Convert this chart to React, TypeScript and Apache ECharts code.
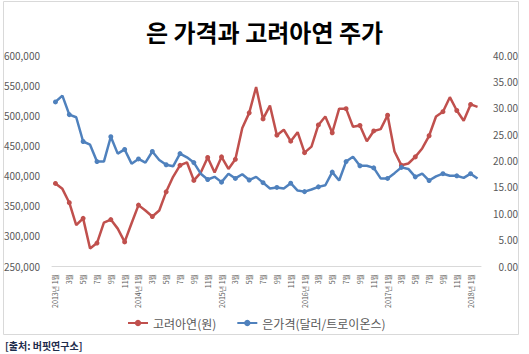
import React, { useEffect, useRef } from "react";
import * as echarts from "echarts";

const months: string[] = [
  "2013년 1월", "2월", "3월", "4월", "5월", "6월", "7월", "8월", "9월", "10월", "11월", "12월",
  "2014년 1월", "2월", "3월", "4월", "5월", "6월", "7월", "8월", "9월", "10월", "11월", "12월",
  "2015년 1월", "2월", "3월", "4월", "5월", "6월", "7월", "8월", "9월", "10월", "11월", "12월",
  "2016년 1월", "2월", "3월", "4월", "5월", "6월", "7월", "8월", "9월", "10월", "11월", "12월",
  "2017년 1월", "2월", "3월", "4월", "5월", "6월", "7월", "8월", "9월", "10월", "11월", "12월",
  "2018년 1월", "2월",
];

const zincPrice: number[] = [
  387000, 378000, 355000, 318000, 329000, 279000, 288000, 322000, 327000, 312000, 290000, 321000,
  351000, 342000, 332000, 342000, 373000, 398000, 417000, 422000, 392000, 405000, 430000, 405000,
  431000, 411000, 427000, 479000, 504000, 547000, 494000, 516000, 467000, 476000, 457000, 472000,
  438000, 448000, 484000, 498000, 471000, 511000, 511000, 481000, 483000, 457000, 474000, 477000,
  500000, 440000, 417000, 420000, 431000, 445000, 466000, 498000, 506000, 530000, 508000, 491000,
  518000, 514000,
];

const silverPrice: number[] = [
  31.1, 32.3, 28.7, 28.2, 23.6, 23.0, 19.8, 19.8, 24.5, 21.3, 22.1, 19.4,
  20.3, 19.6, 21.7, 20.1, 19.2, 18.9, 21.3, 20.6, 19.6, 17.5, 16.4, 16.9,
  15.9, 17.5, 16.6, 17.4, 16.3, 16.9, 15.8, 14.7, 14.9, 14.7, 15.7, 14.3,
  14.1, 14.5, 15.0, 15.3, 17.8, 16.2, 19.8, 20.7, 19.0, 19.0, 18.6, 16.6,
  16.6, 17.6, 18.7, 18.4, 16.9, 17.5, 16.2, 17.0, 17.5, 17.1, 17.1, 16.7,
  17.5, 16.6,
];

const seriesNames: string[] = ["고려아연(원)", "은가격(달러/트로이온스)"];
const titleText = "은 가격과 고려아연 주가";
const sourceText = "[출처: 버핏연구소]";

const FONT = "'Noto Sans CJK KR', 'Noto Sans', sans-serif";
const RED = "#C0504D";
const BLUE = "#4F81BD";
const LABEL = "#595959";

export default function App() {
  const ref = useRef<HTMLDivElement>(null);
  useEffect(() => {
    if (!ref.current) return;
    const chart = echarts.init(ref.current, null, { renderer: "svg" });
    chart.setOption({
      animation: false,
      backgroundColor: "#ffffff",
      textStyle: { fontFamily: FONT },
      title: {
        text: titleText,
        left: "center",
        top: 14,
        textStyle: { fontFamily: FONT, fontSize: 24, fontWeight: "bold", color: "#000000" },
      },
      legend: {
        data: seriesNames,
        left: 122,
        top: 312,
        itemWidth: 20,
        itemHeight: 8,
        itemGap: 20,
        textStyle: { fontFamily: FONT, fontSize: 12, color: LABEL },
      },
      grid: { left: 52, right: 48, top: 55, height: 211, containLabel: false },
      xAxis: {
        type: "category",
        data: months,
        boundaryGap: true,
        axisLine: { show: true, lineStyle: { color: "#D9D9D9", width: 1 } },
        axisTick: { show: false },
        axisLabel: {
          interval: 1,
          rotate: 90,
          fontSize: 7,
          color: LABEL,
          margin: 8,
          fontFamily: FONT,
        },
      },
      yAxis: [
        {
          type: "value",
          min: 250000,
          max: 600000,
          interval: 50000,
          position: "left",
          axisLine: { show: false },
          axisTick: { show: false },
          splitLine: { show: false },
          axisLabel: {
            fontSize: 10,
            color: LABEL,
            margin: 12,
            fontFamily: FONT,
            formatter: (v: number) => v.toLocaleString("en-US"),
          },
        },
        {
          type: "value",
          min: 0,
          max: 40,
          interval: 5,
          position: "right",
          axisLine: { show: false },
          axisTick: { show: false },
          splitLine: { show: false },
          axisLabel: {
            fontSize: 10,
            color: LABEL,
            margin: 37,
            align: "right",
            fontFamily: FONT,
            formatter: (v: number) => v.toFixed(2),
          },
        },
      ],
      series: [
        {
          name: seriesNames[0],
          type: "line",
          yAxisIndex: 0,
          data: zincPrice,
          symbol: "circle",
          symbolSize: 5,
          lineStyle: { color: RED, width: 2.5 },
          itemStyle: { color: RED },
        },
        {
          name: seriesNames[1],
          type: "line",
          yAxisIndex: 1,
          data: silverPrice,
          symbol: "circle",
          symbolSize: 5,
          lineStyle: { color: BLUE, width: 2.5 },
          itemStyle: { color: BLUE },
        },
      ],
      graphic: [
        {
          type: "rect",
          shape: { x: 3.5, y: 1.5, width: 515, height: 333 },
          style: { fill: "none", stroke: "#D9D9D9", lineWidth: 1 },
          silent: true,
          z: -1,
        },
        {
          type: "text",
          left: 5,
          top: 340,
          style: {
            text: sourceText,
            font: `bold 10px ${FONT}`,
            fill: "#1F2D4D",
          },
        },
      ],
    });
    return () => chart.dispose();
  }, []);
  return (
    <div
      ref={ref}
      style={{ position: "fixed", left: 0, top: 0, width: 529, height: 354 }}
    />
  );
}
